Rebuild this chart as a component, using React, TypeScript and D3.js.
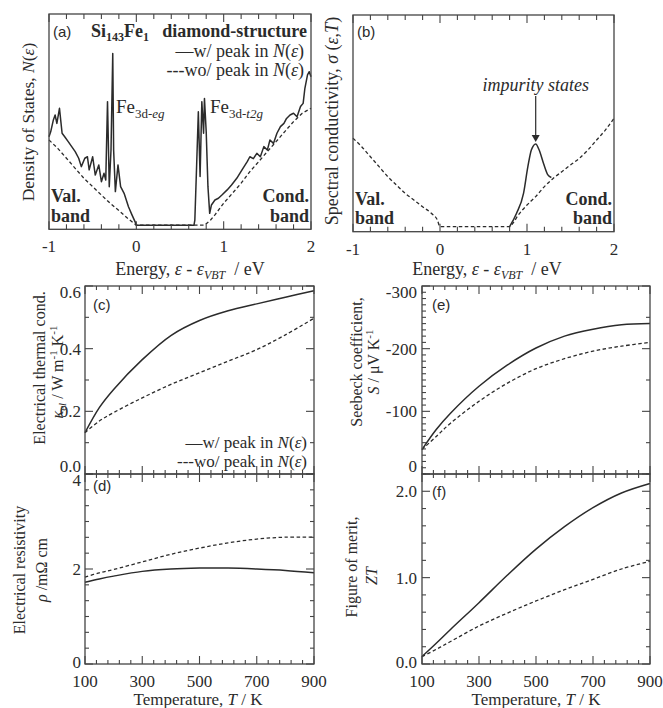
import React from "react";
import * as d3 from "d3";

const SERIF = "Liberation Serif, DejaVu Serif, Times New Roman, serif";
const SANS = "Liberation Sans, Arial, sans-serif";
const INK = "#2b2b2b";

const energyTicks = [-1, 0, 1, 2];
const temperatureTicks = [100, 300, 500, 700, 900];
const kappaTicks = [0, 0.2, 0.4, 0.6];
const rhoTicks = [0, 2, 4];
const seebeckTicks = [0, -100, -200, -300];
const ztTicks = [0, 1, 2];

// (a) density of states, arbitrary units (0 = gap level, 100 = top of frame)
const dosWithPeak: [number, number][] = [
  [-1.0, 43.0], [-0.98, 45.4], [-0.95, 50.8], [-0.93, 53.1], [-0.91, 49.2], [-0.88, 56.2],
  [-0.85, 44.6], [-0.82, 43.0], [-0.78, 40.7], [-0.74, 38.4], [-0.7, 36.1], [-0.66, 33.0],
  [-0.63, 29.1], [-0.59, 33.0], [-0.56, 33.7], [-0.54, 27.6], [-0.5, 33.7], [-0.47, 25.2],
  [-0.43, 29.9], [-0.4, 22.1], [-0.37, 26.0], [-0.35, 22.9], [-0.33, 59.3], [-0.31, 19.8],
  [-0.29, 36.8], [-0.27, 81.7], [-0.26, 36.8], [-0.24, 17.5], [-0.21, 29.9], [-0.18, 19.8],
  [-0.14, 16.7], [-0.09, 10.5], [-0.05, 6.7], [-0.01, 3.1], [0.0, 1.9], [0.66, 1.9],
  [0.67, 4.3], [0.69, 29.1], [0.71, 54.6], [0.73, 24.5], [0.75, 59.3], [0.77, 44.6],
  [0.78, 60.8], [0.8, 45.4], [0.82, 19.8], [0.84, 7.4], [0.86, 11.3], [0.9, 13.6],
  [0.94, 14.4], [0.98, 15.9], [1.04, 18.3], [1.09, 20.6], [1.15, 23.7], [1.21, 27.6],
  [1.27, 31.4], [1.3, 33.7], [1.34, 32.8], [1.38, 35.3], [1.42, 33.7], [1.46, 38.4],
  [1.5, 36.8], [1.53, 41.5], [1.57, 39.9], [1.61, 44.6], [1.65, 47.7], [1.69, 49.2],
  [1.72, 51.5], [1.76, 53.1], [1.8, 53.9], [1.84, 52.3], [1.88, 57.0], [1.91, 58.5],
  [1.93, 65.5], [1.96, 71.7], [1.98, 73.2], [2.0, 70.9],
];
const dosWithoutPeak: [number, number][] = [
  [-1.0, 41.5], [-0.9, 37.6], [-0.8, 33.0], [-0.7, 28.3], [-0.6, 23.7], [-0.5, 19.8],
  [-0.4, 15.9], [-0.3, 12.1], [-0.2, 8.7], [-0.1, 5.1], [0.0, 1.9], [0.78, 1.9],
  [0.85, 4.3], [0.9, 6.7], [1.0, 12.1], [1.1, 16.7], [1.2, 21.4], [1.3, 26.8],
  [1.4, 31.4], [1.5, 36.1], [1.6, 40.7], [1.7, 45.4], [1.8, 50.0], [1.9, 53.9], [2.0, 56.2],
];

// (b) spectral conductivity, arbitrary units
const sigmaWithPeak: [number, number][] = [
  [0.8, 2.3], [0.88, 8.5], [0.96, 17.7], [1.01, 30.0], [1.05, 37.7], [1.1, 40.5],
  [1.14, 37.7], [1.19, 31.5], [1.24, 26.2], [1.28, 25.0],
];
const sigmaWithoutPeak: [number, number][] = [
  [-1.0, 43.1], [-0.9, 39.2], [-0.8, 34.6], [-0.7, 30.0], [-0.6, 25.4], [-0.5, 21.5],
  [-0.4, 17.7], [-0.3, 14.6], [-0.2, 11.5], [-0.1, 8.5], [-0.03, 5.4], [0.0, 2.3],
  [0.8, 2.3], [0.85, 4.6], [0.9, 7.7], [1.0, 12.3], [1.1, 16.2], [1.2, 20.8], [1.3, 24.6],
  [1.4, 27.7], [1.5, 30.8], [1.6, 33.8], [1.7, 37.7], [1.8, 42.3], [1.9, 46.9], [2.0, 52.3],
];

// (c)-(f) transport vs temperature
const temperatures = [100, 150, 200, 300, 400, 500, 600, 700, 800, 900];
const kappaWith = [0.132, 0.212, 0.27, 0.365, 0.442, 0.49, 0.521, 0.543, 0.564, 0.585];
const kappaWithout = [0.132, 0.169, 0.196, 0.243, 0.286, 0.323, 0.36, 0.397, 0.444, 0.497];
const rhoWith = [1.72, 1.79, 1.85, 1.95, 2.0, 2.02, 2.02, 2.0, 1.97, 1.92];
const rhoWithout = [1.83, 1.92, 1.99, 2.15, 2.31, 2.44, 2.55, 2.63, 2.67, 2.67];
const seebeckWith = [-39, -71, -97, -140, -174, -201, -220, -231, -238, -240];
const seebeckWithout = [-39, -60, -81, -116, -145, -168, -184, -196, -204, -210];
const ztWith = [0.086, 0.24, 0.4, 0.71, 1.03, 1.33, 1.59, 1.81, 1.98, 2.09];
const ztWithout = [0.086, 0.17, 0.26, 0.44, 0.59, 0.73, 0.86, 0.98, 1.1, 1.19];

type Scale = d3.ScaleLinear<number, number>;
type Tick = [number, number];

function Frame({ sx, sy, xt, yl, yr }: { sx: Scale; sy: Scale; xt: Tick[]; yl: Tick[]; yr: Tick[] }) {
  const [x0, x1] = sx.range();
  const [y1, y0] = sy.range();
  const out: JSX.Element[] = [];
  xt.forEach(([v, len], i) => {
    const x = sx(v);
    out.push(<line key={"b" + i} x1={x} x2={x} y1={y1} y2={y1 - len} />);
    out.push(<line key={"t" + i} x1={x} x2={x} y1={y0} y2={y0 + len} />);
  });
  yl.forEach(([v, len], i) => {
    const y = sy(v);
    out.push(<line key={"l" + i} x1={x0} x2={x0 + len} y1={y} y2={y} />);
  });
  yr.forEach(([v, len], i) => {
    const y = sy(v);
    out.push(<line key={"r" + i} x1={x1} x2={x1 - len} y1={y} y2={y} />);
  });
  return (
    <g stroke="#444" strokeWidth={1.1} fill="none">
      {out}
      <rect x={x0} y={y0} width={x1 - x0} height={y1 - y0} strokeWidth={1.3} />
    </g>
  );
}

const near = (v: number, step: number) => Math.abs(v / step - Math.round(v / step)) < 1e-6;
const energyMinor: Tick[] = d3.range(-1, 2.0001, 0.2).map(v => [v, near(v, 1) ? 8 : 5]);
const tempMinor: Tick[] = d3.range(100, 901, 40).map(v => [v, (v - 100) % 200 === 0 ? 8 : 4]);
const kappaMinor: Tick[] = d3.range(0, 0.6001, 0.1).map(v => [v, near(v, 0.2) ? 8 : 4]);
const rhoMinor: Tick[] = d3.range(0, 12.5, 1).map(k => [k / 3, k % 6 === 0 ? 8 : 4]);
const seebeckLeft: Tick[] = d3.range(0, -301, -10).map(v => [v, v % 100 === 0 ? 8 : 4]);
const seebeckRight: Tick[] = d3.range(0, -301, -50).map(v => [v, v % 100 === 0 ? 8 : 4]);
const ztMinor: Tick[] = d3.range(0, 2.2001, 0.2).map(v => [v, near(v, 1) ? 8 : 4]);

const serif = (size: number, extra: React.CSSProperties = {}): React.CSSProperties => ({
  fontFamily: SERIF, fontSize: size, ...extra,
});
const sans = { fontFamily: SANS, fontSize: 15 } as React.CSSProperties;

function YLabels({ sy, ticks, x, fmt, clampBottom }: { sy: Scale; ticks: number[]; x: number; fmt: (v: number) => string; clampBottom: boolean }) {
  const [y1, y0] = sy.range();
  return (
    <g style={serif(17)} fill={INK} textAnchor="end">
      {ticks.map(v => {
        let y = sy(v) + 6;
        y = Math.max(y, y0 + 12);
        y = clampBottom ? Math.min(y, y1 - 2) : Math.min(y, y1 + 4);
        return <text key={v} x={x} y={y}>{fmt(v)}</text>;
      })}
    </g>
  );
}

function XLabels({ sx, ticks, y, fmt }: { sx: Scale; ticks: number[]; y: number; fmt: (v: number) => string }) {
  return (
    <g style={serif(17)} fill={INK} textAnchor="middle">
      {ticks.map(v => <text key={v} x={sx(v)} y={y}>{fmt(v)}</text>)}
    </g>
  );
}

const I = ({ children }: { children: React.ReactNode }) => <tspan fontStyle="italic">{children}</tspan>;

function EnergyLabel({ x }: { x: number }) {
  return (
    <text x={x} y={275} style={serif(18)} fill={INK} textAnchor="middle">
      Energy, <I>ε</I> - <I>ε</I>
      <tspan fontStyle="italic" fontSize={12} dy={4}>VBT</tspan>
      <tspan dy={-4}>{"\u00A0 / eV"}</tspan>
    </text>
  );
}

function Curve({ d, dashed }: { d: string | null; dashed?: boolean }) {
  return (
    <path d={d ?? ""} fill="none" stroke={INK} strokeWidth={dashed ? 1.3 : 1.5}
      strokeDasharray={dashed ? "3.5,2.5" : undefined} strokeLinejoin="round" />
  );
}

function RotLabel({ x, y, size, children }: { x: number; y: number; size: number; children: React.ReactNode }) {
  return (
    <text x={x} y={y} transform={`rotate(-90 ${x} ${y})`} style={serif(size)} fill={INK} textAnchor="middle">
      {children}
    </text>
  );
}

export default function App() {
  const xA = d3.scaleLinear([-1, 2], [49, 311]);
  const yA = d3.scaleLinear([0, 100], [229.3, 14]);
  const xB = d3.scaleLinear([-1, 2], [353, 614]);
  const yB = d3.scaleLinear([0, 100], [231.7, 15]);
  const xL = d3.scaleLinear([100, 900], [85, 314]);
  const xR = d3.scaleLinear([100, 900], [422, 650]);
  const yC = d3.scaleLinear([0, 0.6], [474, 286]);
  const yD = d3.scaleLinear([0, 4], [664, 474]);
  const yE = d3.scaleLinear([0, -300], [474, 286]);
  const yF = d3.scaleLinear([0, 2.2], [664, 474]);

  const pairLine = (sx: Scale, sy: Scale, curve: d3.CurveFactory) =>
    d3.line<[number, number]>().x(p => sx(p[0])).y(p => sy(p[1])).curve(curve);
  const tLine = (sx: Scale, sy: Scale, vals: number[]) =>
    d3.line<number>().x((_, i) => sx(temperatures[i])).y(v => sy(v)).curve(d3.curveCatmullRom.alpha(0.5))(vals);

  const lineA = pairLine(xA, yA, d3.curveLinear);
  const lineB = pairLine(xB, yB, d3.curveMonotoneX);

  const peakX = xB(1.1);
  const peakY = yB(40.5);

  const fmt1 = (v: number) => v.toFixed(1);
  const fmtInt = (v: number) => String(v);

  return (
    <div style={{ position: "absolute", left: 0, top: 0 }}>
      <svg width={663} height={708} viewBox="0 0 663 708" style={{ display: "block", background: "#fff" }}>
        {/* ---------- (a) ---------- */}
        <Curve d={lineA(dosWithoutPeak)} dashed />
        <Curve d={lineA(dosWithPeak)} />
        <Frame sx={xA} sy={yA} xt={energyMinor} yl={[]} yr={[]} />
        <text x={53} y={37} style={sans} fill={INK}>(a)</text>
        <text x={91} y={37} style={serif(18, { fontWeight: "bold" })} fill={INK}>
          Si<tspan fontSize={12} dy={4}>143</tspan><tspan dy={-4}>Fe</tspan><tspan fontSize={12} dy={4}>1</tspan>
        </text>
        <text x={307} y={37} style={serif(18, { fontWeight: "bold" })} fill={INK} textAnchor="end">diamond-structure</text>
        <g style={serif(18)} fill={INK} textAnchor="end">
          <text x={304} y={57}>—w/ peak in <I>N</I>(<I>ε</I>)</text>
          <text x={304} y={76}>---wo/ peak in <I>N</I>(<I>ε</I>)</text>
        </g>
        <g style={serif(19)} fill={INK}>
          <text x={116} y={113}>Fe<tspan fontSize={13} dy={5}>3d-</tspan><tspan fontSize={13} fontStyle="italic">eg</tspan></text>
          <text x={210} y={113}>Fe<tspan fontSize={13} dy={5}>3d-</tspan><tspan fontSize={13} fontStyle="italic">t2g</tspan></text>
        </g>
        <g style={serif(18, { fontWeight: "bold" })} fill={INK}>
          <text x={51} y={202}>Val.</text>
          <text x={51} y={222}>band</text>
          <text x={309} y={202} textAnchor="end">Cond.</text>
          <text x={309} y={222} textAnchor="end">band</text>
        </g>
        <XLabels sx={xA} ticks={energyTicks} y={252} fmt={fmtInt} />
        <EnergyLabel x={190} />
        <RotLabel x={34} y={122} size={17.5}>Density of States, <I>N</I>(<I>ε</I>)</RotLabel>

        {/* ---------- (b) ---------- */}
        <Curve d={lineB(sigmaWithoutPeak)} dashed />
        <Curve d={lineB(sigmaWithPeak)} />
        <Frame sx={xB} sy={yB} xt={energyMinor} yl={[]} yr={[]} />
        <text x={357} y={37} style={sans} fill={INK}>(b)</text>
        <text x={peakX} y={91} style={serif(18, { fontStyle: "italic" })} fill={INK} textAnchor="middle">impurity states</text>
        <line x1={peakX} x2={peakX} y1={96} y2={peakY - 8} stroke={INK} strokeWidth={1.2} />
        <path d={`M${peakX - 4},${peakY - 9}L${peakX + 4},${peakY - 9}L${peakX},${peakY - 2}Z`} fill={INK} />
        <g style={serif(18, { fontWeight: "bold" })} fill={INK}>
          <text x={355} y={205}>Val.</text>
          <text x={355} y={224}>band</text>
          <text x={612} y={205} textAnchor="end">Cond.</text>
          <text x={612} y={224} textAnchor="end">band</text>
        </g>
        <XLabels sx={xB} ticks={energyTicks} y={255} fmt={fmtInt} />
        <EnergyLabel x={487} />
        <RotLabel x={338} y={121} size={18}>Spectral conductivity, <I>σ</I> (<I>ε</I>,<I>T</I>)</RotLabel>

        {/* ---------- (c) ---------- */}
        <Curve d={tLine(xL, yC, kappaWithout)} dashed />
        <Curve d={tLine(xL, yC, kappaWith)} />
        <Frame sx={xL} sy={yC} xt={tempMinor} yl={kappaMinor} yr={kappaMinor} />
        <text x={93} y={310} style={sans} fill={INK}>(c)</text>
        <g style={serif(17)} fill={INK} textAnchor="end">
          <text x={307} y={448}>—w/ peak in <I>N</I>(<I>ε</I>)</text>
          <text x={307} y={467}>---wo/ peak in <I>N</I>(<I>ε</I>)</text>
        </g>
        <YLabels sy={yC} ticks={kappaTicks} x={81} fmt={fmt1} clampBottom />
        <RotLabel x={45} y={368} size={16}>Electrical thermal cond.</RotLabel>
        <RotLabel x={63} y={372} size={16}>
          <I>κ</I><tspan fontStyle="italic" fontSize={11} dy={3}>el</tspan>
          <tspan dy={-3}>{" / W m"}</tspan><tspan fontSize={11} dy={-6}>-1</tspan>
          <tspan dy={6}>{" K"}</tspan><tspan fontSize={11} dy={-6}>-1</tspan>
        </RotLabel>

        {/* ---------- (d) ---------- */}
        <Curve d={tLine(xL, yD, rhoWithout)} dashed />
        <Curve d={tLine(xL, yD, rhoWith)} />
        <Frame sx={xL} sy={yD} xt={tempMinor} yl={rhoMinor} yr={rhoMinor} />
        <text x={93} y={491} style={sans} fill={INK}>(d)</text>
        <YLabels sy={yD} ticks={rhoTicks} x={81} fmt={fmtInt} clampBottom={false} />
        <XLabels sx={xL} ticks={temperatureTicks} y={687} fmt={fmtInt} />
        <text x={198} y={705} style={serif(17)} fill={INK} textAnchor="middle">
          Temperature, <I>T</I> / K
        </text>
        <RotLabel x={25} y={570} size={16}>Electrical resistivity</RotLabel>
        <RotLabel x={47} y={570} size={16}><I>ρ</I> /mΩ cm</RotLabel>

        {/* ---------- (e) ---------- */}
        <Curve d={tLine(xR, yE, seebeckWithout)} dashed />
        <Curve d={tLine(xR, yE, seebeckWith)} />
        <Frame sx={xR} sy={yE} xt={tempMinor} yl={seebeckLeft} yr={seebeckRight} />
        <text x={432} y={310} style={sans} fill={INK}>(e)</text>
        <YLabels sy={yE} ticks={seebeckTicks} x={417} fmt={fmtInt} clampBottom />
        <RotLabel x={362} y={362} size={16}>Seebeck coefficient,</RotLabel>
        <RotLabel x={379} y={362} size={16}>
          <I>S</I> / μV K<tspan fontSize={11} dy={-6}>-1</tspan>
        </RotLabel>

        {/* ---------- (f) ---------- */}
        <Curve d={tLine(xR, yF, ztWithout)} dashed />
        <Curve d={tLine(xR, yF, ztWith)} />
        <Frame sx={xR} sy={yF} xt={tempMinor} yl={ztMinor} yr={ztMinor} />
        <text x={432} y={497} style={sans} fill={INK}>(f)</text>
        <YLabels sy={yF} ticks={ztTicks} x={417} fmt={fmt1} clampBottom={false} />
        <XLabels sx={xR} ticks={temperatureTicks} y={687} fmt={fmtInt} />
        <text x={536} y={705} style={serif(17)} fill={INK} textAnchor="middle">
          Temperature, <I>T</I> / K
        </text>
        <RotLabel x={357} y={567} size={16}>Figure of merit,</RotLabel>
        <RotLabel x={377} y={576} size={16}><I>ZT</I></RotLabel>
      </svg>
    </div>
  );
}
